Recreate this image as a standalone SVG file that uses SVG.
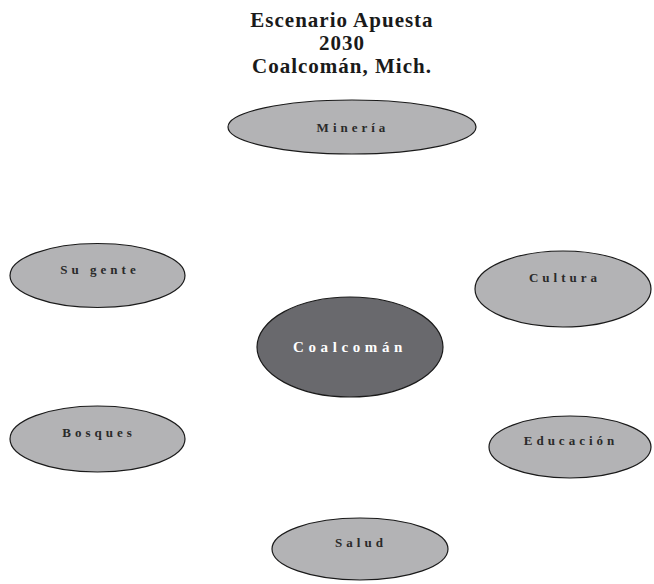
<svg xmlns="http://www.w3.org/2000/svg" width="654" height="584" viewBox="0 0 654 584">
<style>
.title{font-family:"Liberation Serif","Times New Roman",serif;font-weight:bold;font-size:21px;letter-spacing:1px;fill:#1a1a1a;text-anchor:middle}
.node{fill:#b3b3b5;stroke:#1a1a1a;stroke-width:1.2}
.center{fill:#69696d;stroke:#1a1a1a;stroke-width:1.2}
.lbl{font-family:"Liberation Serif","Times New Roman",serif;font-weight:bold;font-size:13px;letter-spacing:4px;fill:#2a2a2a;text-anchor:middle}
.clbl{font-family:"Liberation Serif","Times New Roman",serif;font-weight:bold;font-size:15px;letter-spacing:4.6px;fill:#ffffff;text-anchor:middle}
</style>
<rect width="654" height="584" fill="#ffffff"/>
<g id="title">
<text class="title" x="342" y="27">Escenario Apuesta</text>
<text class="title" x="342" y="50">2030</text>
<text class="title" x="342" y="73">Coalcomán, Mich.</text>
</g>
<g id="connectors"></g>
<g id="n-mineria">
<ellipse class="node" cx="352" cy="127" rx="124" ry="27"/>
<text class="lbl" x="353" y="132">Minería</text>
</g>
<g id="n-sugente">
<ellipse class="node" cx="97.5" cy="275.5" rx="87.5" ry="32"/>
<text class="lbl" x="100" y="274">Su gente</text>
</g>
<g id="n-cultura">
<ellipse class="node" cx="563" cy="289" rx="88" ry="38"/>
<text class="lbl" x="565" y="282">Cultura</text>
</g>
<g id="n-coalcoman">
<ellipse class="center" cx="350" cy="347" rx="93" ry="50"/>
<text class="clbl" x="350" y="352">Coalcomán</text>
</g>
<g id="n-bosques">
<ellipse class="node" cx="97.5" cy="439" rx="87.5" ry="33"/>
<text class="lbl" x="99" y="437">Bosques</text>
</g>
<g id="n-educacion">
<ellipse class="node" cx="570" cy="447" rx="81" ry="31"/>
<text class="lbl" x="571" y="445">Educación</text>
</g>
<g id="n-salud">
<ellipse class="node" cx="360" cy="549" rx="88" ry="31"/>
<text class="lbl" x="361" y="547">Salud</text>
</g>
</svg>
